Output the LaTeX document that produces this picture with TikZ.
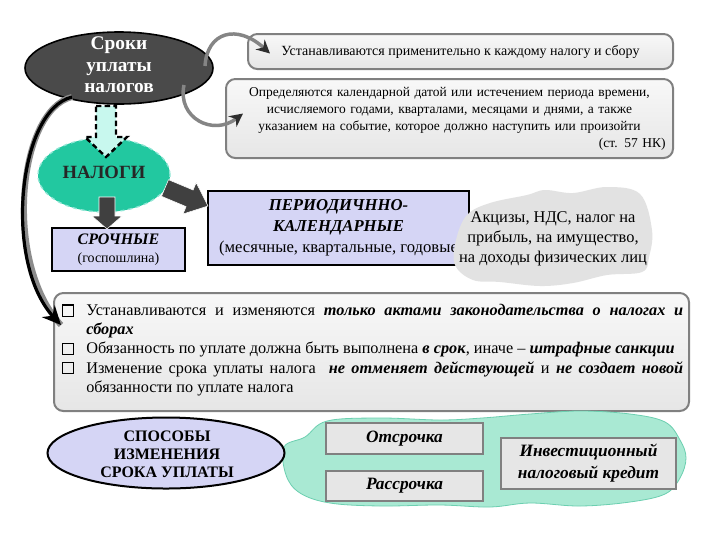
\documentclass[tikz,border=0pt]{standalone}
\usepackage{fontspec}
\setmainfont{Liberation Serif}
\usetikzlibrary{arrows.meta,shapes.geometric,calc}
\definecolor{darkell}{HTML}{4A4A4A}
\definecolor{boxtop}{HTML}{F8F8F8}
\definecolor{boxbot}{HTML}{E6E6E6}
\definecolor{boxedge}{HTML}{808080}
\definecolor{tealA}{HTML}{22C8A0}
\definecolor{tealedge}{HTML}{8FE6D4}
\definecolor{lav}{HTML}{D5D5F5}
\definecolor{cloudgray}{HTML}{E2E2E2}
\definecolor{cloudteal}{HTML}{A9E9D3}
\definecolor{cloudtealedge}{HTML}{6CCFB0}
\definecolor{arrdark}{HTML}{404040}
\definecolor{lightcyan}{HTML}{C8F8EE}
\definecolor{sbox}{HTML}{E6E6E6}
\definecolor{curvgray}{HTML}{858585}
\definecolor{arrtip}{HTML}{2E2E2E}
\newcommand\chkbox{\makebox[18pt][l]{\fboxsep=0pt\fboxrule=0.8pt\fbox{\rule{0pt}{7.5pt}\hspace{7.5pt}}}}
\begin{document}
\begin{tikzpicture}[x=0.75pt,y=-0.75pt,
  graybox/.style={draw=boxedge, line width=1.5pt, rounded corners=7pt, top color=boxtop, bottom color=boxbot, inner sep=2pt},
  lavbox/.style={draw=black, line width=1.5pt, fill=lav, inner sep=2pt},
  smallbox/.style={draw=boxedge, line width=1.5pt, fill=sbox, inner sep=2pt},
  curvarr/.style={draw=curvgray, line width=2.6pt, -{Stealth[length=10pt,width=10pt,color=arrtip]}},
  blockarr/.style={fill=arrdark, draw=white, line width=0.4pt},
  bi/.style={font=\bfseries\itshape\fontsize{13}{15}\selectfont},
]
\useasboundingbox (0,0) rectangle (720,540);
\fill[white] (0,0) rectangle (720,540);

\coordinate (bigstart) at (72,97);

% top dark ellipse
\node[ellipse, draw=black, line width=1.2pt, fill=darkell, minimum width=141pt, minimum height=54pt, inner sep=0pt] (srok) at (119,68) {};
\node[text=white, align=center, font=\bfseries\fontsize{14.5}{16.2}\selectfont] (sroktxt) at (119,65) {Сроки\\уплаты\\налогов};

% top boxes
\node[graybox, anchor=north west, minimum width=318.75pt, minimum height=26.25pt, font=\fontsize{10.5}{12}\selectfont] (b1) at (247,33) {Устанавливаются применительно к каждому налогу и сбору};
\node[graybox, anchor=north west, minimum width=335.25pt, minimum height=59.25pt, text width=324pt, align=center, font=\fontsize{10.1}{12.75}\selectfont] (b2) at (225,78) {Определяются календарной датой или истечением периода времени,\\ исчисляемого годами, кварталами, месяцами и днями, а также\\ указанием на событие, которое должно наступить или произойти\\ \hspace*{\fill}(ст. 57 НК)};

% curved arrows to boxes
\draw[curvarr] ($(srok.center)+(86,-2)$) .. controls ($(srok.center)+(88,-36)$) and ($(b1.west)+(-10,-28)$) .. ($(b1.west)+(23,2)$);
\draw[curvarr] ($(srok.center)+(65,17)$) .. controls ($(srok.center)+(58,50)$) and ($(b2.west)+(-12,18)$) .. ($(b2.west)+(18,-5)$);

% НАЛОГИ ellipse
\node[ellipse, fill=tealA, draw=tealedge, dashed, line width=1pt, minimum width=99pt, minimum height=55.5pt, inner sep=0pt] (nal) at (104,175) {};
\node[font=\bfseries\fontsize{14}{16}\selectfont, text=black!85] (naltxt) at (104,172) {НАЛОГИ};

% dashed block arrow
\draw[fill=lightcyan, draw=black, line width=1.8pt, dash pattern=on 4pt off 2.5pt] (96,106) -- (116,106) -- (116,137) -- (127,137) -- (106,157) -- (85,137) -- (96,137) -- cycle;

% СРОЧНЫЕ
\node[lavbox, anchor=north west, minimum width=99.75pt, minimum height=32.25pt, align=center] (sroch) at (51,227) {{\bfseries\itshape\fontsize{12}{15}\selectfont СРОЧНЫЕ}\\[1.5pt]{\fontsize{10.5}{12}\selectfont (госпошлина)}};
% ПЕРИОДИЧНО
\node[lavbox, anchor=north west, minimum width=195.75pt, minimum height=55.5pt, align=center, font=\fontsize{12.5}{15.75}\selectfont] (period) at (207,190) {\textbf{\textit{ПЕРИОДИЧННО-}}\\ \textbf{\textit{КАЛЕНДАРНЫЕ}}\\ (месячные, квартальные, годовые};

% block arrows from НАЛОГИ
\draw[blockarr] (99,197) -- (115,197) -- (115,216) -- (122,216) -- (107,229) -- (92,216) -- (99,216) -- cycle;
\draw[blockarr] (168.5,179.7) -- (193.1,190.0) -- (196.2,182.6) -- (208,206) -- (183.0,214.0) -- (186.1,206.6) -- (161.5,196.3) -- cycle;

% gray cloud
\fill[cloudgray] plot[smooth cycle, tension=0.6] coordinates {(467,215) (490,203) (527,195) (545,190) (573,193) (607,187) (640,194) (652,230) (649,257) (642,272) (607,275) (573,283) (540,286) (500,282) (473,280) (455,265) (456,240)};
\node[align=center, font=\fontsize{12.3}{15}\selectfont] (cloudtxt) at (553,239) {Акцизы, НДС, налог на\\прибыль, на имущество,\\на доходы физических лиц};

% big box
\node[graybox, anchor=north west, minimum width=476.25pt, minimum height=88.5pt] (big) at (53,292) {};
\node[anchor=north west, text width=465.75pt, align=justify, inner sep=0pt, font=\fontsize{12.2}{14.4}\selectfont] (bigtxt) at (62,304) {\parindent=0pt
\hangindent=18pt\hangafter=1 \chkbox Устанавливаются и изменяются \textbf{\textit{только актами законодательства о налогах и}}\linebreak \textbf{\textit{сборах}}\par
\hangindent=18pt\hangafter=1 \chkbox Обязанность по уплате должна быть выполнена \textbf{\textit{в срок}}, иначе – \textbf{\textit{штрафные санкции}}\par
\hangindent=18pt\hangafter=1 \chkbox Изменение срока уплаты налога\ \ \textbf{\textit{не отменяет действующей}} и \textbf{\textit{не создает новой}}\linebreak обязанности по уплате налога\par};

% big left arrow
\coordinate (bigend) at ($(big.north west)+(8,33)$);
\draw[line width=4.5pt, draw=black!45] (bigstart) .. controls (18,110) and (3,262) .. (bigend);
\draw[line width=2.4pt, draw=black, -{Stealth[length=14pt,width=13pt,color=black]}] (bigstart) .. controls (18,110) and (3,262) .. (bigend);

% bottom teal cloud
\filldraw[fill=cloudteal, draw=cloudtealedge, line width=0.6pt] plot[smooth cycle, tension=0.6] coordinates {(284,447) (305,437) (327,421) (380,418) (440,420) (482,418) (530,414) (580,411) (630,414) (665,422) (680,440) (686,458) (680,478) (665,494) (630,502) (580,506) (530,503) (490,507) (440,505) (380,506) (330,503) (300,493) (286,475)};

% СПОСОБЫ ellipse
\node[ellipse, draw=black, line width=1.5pt, fill=lav, minimum width=177.75pt, minimum height=53.25pt, inner sep=0pt] (spos) at (166,453) {};
\node[align=center, font=\bfseries\fontsize{12}{13.5}\selectfont] (spostxt) at (167,454) {СПОСОБЫ\\ИЗМЕНЕНИЯ\\СРОКА УПЛАТЫ};

% small boxes
\node[smallbox, anchor=north west, minimum width=117.75pt, minimum height=23.25pt, bi] (otsr) at (325,422) {Отсрочка};
\node[smallbox, anchor=north west, minimum width=117.75pt, minimum height=22.5pt, bi] (rassr) at (325,470) {Рассрочка};
\node[smallbox, anchor=north west, minimum width=131.25pt, minimum height=38.25pt, align=center, font=\bfseries\itshape\fontsize{13}{16.5}\selectfont] (invest) at (500,437) {Инвестиционный\\налоговый кредит};
\end{tikzpicture}
\end{document}
